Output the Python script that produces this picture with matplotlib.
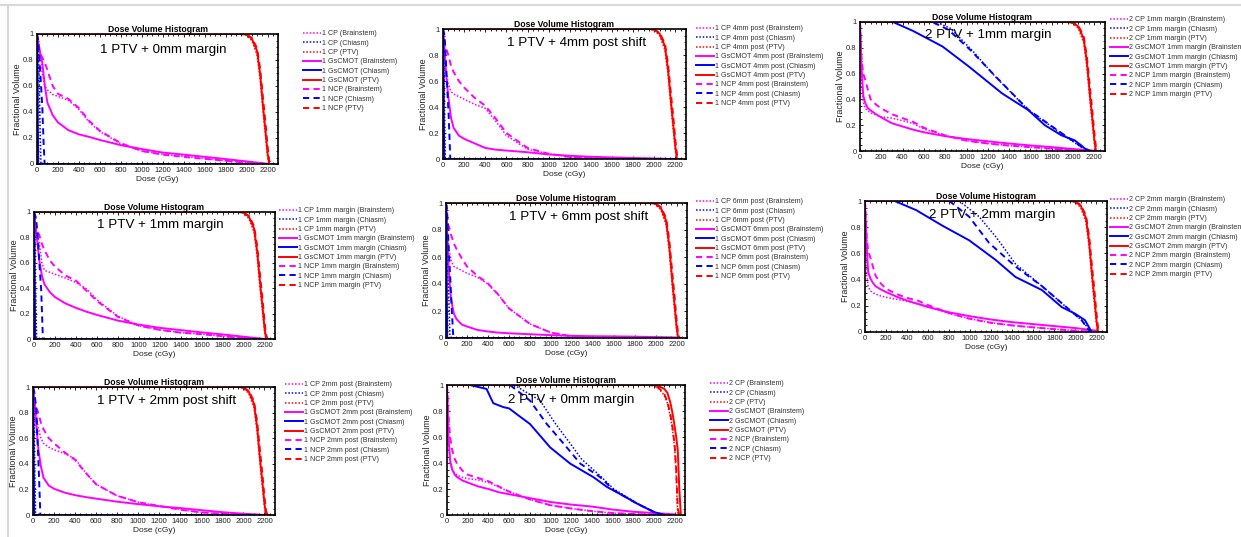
import matplotlib
matplotlib.use('Agg')
import matplotlib.pyplot as plt
from matplotlib.ticker import MultipleLocator
from matplotlib.lines import Line2D

plt.rcParams['font.family'] = ['Liberation Sans', 'DejaVu Sans']

W, H = 1241, 537

METHODS = ['CP', 'GsCMOT', 'NCP']
STRUCTURES = ['Brainstem', 'Chiasm', 'PTV']
X_TICKS = [0, 200, 400, 600, 800, 1000, 1200, 1400, 1600, 1800, 2000, 2200]
Y_TICKS = [0, 0.2, 0.4, 0.6, 0.8, 1.0]
Y_TICK_LABELS = ['0', '0.2', '0.4', '0.6', '0.8', '1']

# ---------------- Brainstem (shared dose grid) ----------------
BS_DOSE = [0, 15, 30, 50, 75, 100, 150, 200, 300, 400, 500, 600, 800, 1000, 1200, 1400, 1600, 1800, 2000, 2200]

P1_BS_CP = [1, .92, .88, .70, .60, .57, .535, .52, .49, .42, .32, .25, .155, .10, .075, .058, .042, .025, .01, 0]
P1_BS_GS = [1, .92, .85, .78, .60, .47, .375, .32, .26, .228, .208, .185, .145, .115, .088, .072, .055, .038, .02, .002]
P1_BS_NCP = [1, .90, .85, .82, .78, .72, .60, .54, .50, .43, .33, .255, .16, .10, .072, .055, .04, .025, .01, 0]

P2_BS_CP = [1, .78, .66, .58, .52, .50, .48, .46, .42, .39, .29, .18, .075, .04, .016, .006, .002, 0, 0, 0]
P2_BS_GS = [1, .85, .65, .48, .32, .24, .18, .155, .12, .085, .072, .065, .052, .035, .025, .017, .012, .008, .004, 0]
P2_BS_NCP = [1, .88, .85, .80, .72, .67, .60, .55, .47, .41, .31, .20, .085, .04, .016, .006, .002, 0, 0, 0]

P3_BS_CP = [1, .52, .38, .33, .31, .295, .28, .265, .255, .235, .213, .17, .12, .08, .058, .042, .03, .018, .008, 0]
P3_BS_GS = [1, .65, .43, .37, .33, .315, .285, .26, .215, .19, .165, .145, .115, .093, .075, .058, .043, .03, .015, .002]
P3_BS_NCP = [1, .70, .60, .55, .47, .40, .36, .33, .285, .255, .225, .18, .12, .08, .058, .042, .03, .018, .008, 0]

P4_BS_CP = [1, .90, .82, .76, .60, .54, .525, .51, .48, .445, .395, .31, .18, .105, .072, .05, .038, .022, .008, 0]
P4_BS_GS = [1, .88, .78, .62, .50, .43, .37, .33, .28, .245, .215, .19, .145, .113, .088, .07, .052, .036, .018, 0]
P4_BS_NCP = [1, .90, .85, .82, .75, .70, .62, .57, .50, .46, .38, .30, .175, .105, .072, .05, .038, .022, .008, 0]

P5_BS_CP = [1, .75, .65, .57, .53, .52, .50, .48, .45, .40, .32, .22, .105, .04, .012, .004, .001, 0, 0, 0]
P5_BS_GS = [1, .70, .45, .28, .18, .14, .10, .085, .06, .048, .04, .035, .028, .021, .016, .013, .012, .01, .007, .004]
P5_BS_NCP = [1, .85, .82, .76, .70, .66, .59, .53, .46, .405, .32, .22, .105, .04, .012, .004, .001, 0, 0, 0]

P6_BS_CP = [1, .45, .35, .315, .30, .29, .275, .265, .25, .235, .215, .195, .14, .10, .07, .05, .035, .022, .01, 0]
P6_BS_GS = [1, .67, .46, .41, .375, .35, .325, .305, .27, .24, .215, .19, .15, .12, .095, .075, .06, .045, .03, .01]
P6_BS_NCP = [1, .73, .62, .57, .50, .43, .37, .33, .29, .26, .24, .205, .145, .10, .07, .05, .035, .022, .01, 0]

P7_BS_CP = [1, .90, .80, .68, .60, .56, .53, .51, .48, .44, .33, .24, .15, .10, .07, .042, .02, .01, .004, 0]
P7_BS_GS = [1, .88, .72, .52, .38, .29, .23, .205, .175, .155, .14, .128, .104, .085, .068, .054, .038, .022, .01, 0]
P7_BS_NCP = [1, .90, .84, .80, .72, .67, .60, .56, .49, .43, .33, .24, .15, .10, .07, .042, .02, .01, .004, 0]

P8_BS_CP = [1, .55, .40, .35, .32, .305, .29, .28, .27, .25, .215, .18, .12, .075, .05, .03, .015, .007, .002, 0]
P8_BS_GS = [1, .60, .42, .35, .31, .29, .265, .25, .22, .20, .175, .16, .13, .10, .08, .065, .042, .025, .015, .005]
P8_BS_NCP = [1, .75, .60, .50, .43, .39, .34, .31, .285, .26, .22, .18, .12, .075, .05, .03, .015, .007, .002, 0]

# ---------------- Chiasm ----------------
CH1_GS_D = [0, 4, 8, 12, 2200]
CH1_GS_V = [1, .9, .3, 0, 0]

P1_CH_CP_D = [0, 10, 20, 30, 38, 2200]
P1_CH_CP_V = [1, .95, .7, .25, 0, 0]
P1_CH_NCP_D = [0, 10, 20, 35, 50, 63, 73, 2200]
P1_CH_NCP_V = [1, .95, .85, .65, .45, .16, 0, 0]

P2_CH_CP_D = [0, 8, 15, 22, 2200]
P2_CH_CP_V = [1, .8, .3, 0, 0]
P2_CH_NCP_D = [0, 15, 22, 40, 54, 69, 2200]
P2_CH_NCP_V = [1, .95, .84, .55, .33, 0, 0]

P3_CH_CP_D = [0, 720, 850, 1053, 1270, 1580, 1890, 2076, 2170]
P3_CH_CP_V = [1, 1, .95, .78, .577, .317, .135, .03, 0]
P3_CH_GS_D = [0, 310, 500, 775, 1023, 1333, 1580, 1735, 1890, 2014, 2076, 2138]
P3_CH_GS_V = [1, 1, .93, .81, .654, .447, .317, .2, .122, .083, .044, 0]
P3_CH_NCP_D = [0, 680, 830, 1040, 1270, 1580, 1890, 2076, 2160]
P3_CH_NCP_V = [1, 1, .94, .78, .58, .32, .14, .035, 0]

P4_CH_CP_D = [0, 8, 15, 25, 2200]
P4_CH_CP_V = [1, .85, .4, 0, 0]
P4_CH_NCP_D = [0, 20, 38, 55, 69, 85, 2200]
P4_CH_NCP_V = [1, .95, .78, .55, .38, 0, 0]

P5_CH_CP_D = [0, 6, 20, 38, 2200]
P5_CH_CP_V = [1, 1, .5, 0, 0]
P5_CH_NCP_D = [0, 10, 22, 40, 54, 70, 2200]
P5_CH_NCP_V = [1, .95, .73, .45, .23, 0, 0]

P6_CH_CP_D = [0, 896, 1085, 1250, 1430, 1682, 1870, 2059, 2150]
P6_CH_CP_V = [1, 1, .88, .72, .52, .35, .22, .09, 0]
P6_CH_GS_D = [0, 283, 487, 739, 990, 1242, 1430, 1682, 1870, 1996, 2091, 2154]
P6_CH_GS_V = [1, 1, .93, .81, .70, .55, .42, .32, .19, .14, .09, 0]
P6_CH_NCP_D = [0, 802, 990, 1179, 1430, 1682, 1870, 2059, 2138]
P6_CH_NCP_V = [1, 1, .88, .68, .50, .35, .22, .09, 0]

P7_CH_CP_D = [0, 8, 15, 25, 2200]
P7_CH_CP_V = [1, .85, .4, 0, 0]
P7_CH_NCP_D = [0, 15, 32, 45, 57, 70, 2200]
P7_CH_NCP_V = [1, .95, .82, .55, .3, 0, 0]

P8_CH_CP_D = [0, 650, 900, 1050, 1200, 1300, 1482, 1612, 1838, 2000, 2097]
P8_CH_CP_V = [1, 1, .88, .70, .54, .43, .30, .20, .09, .025, 0]
P8_CH_GS_D = [0, 220, 382, 447, 544, 600, 700, 802, 997, 1191, 1417, 1547, 1676, 1838, 2000, 2097]
P8_CH_GS_V = [1, 1, .97, .86, .83, .82, .76, .70, .52, .395, .29, .215, .16, .087, .023, 0]
P8_CH_NCP_D = [0, 608, 802, 964, 1126, 1288, 1482, 1612, 1838, 2000, 2097]
P8_CH_NCP_V = [1, 1, .88, .70, .55, .395, .29, .19, .087, .023, 0]

# ---------------- PTV (shared dose grid) ----------------
PTV_DOSE = [0, 1950, 2000, 2050, 2100, 2130, 2160, 2180, 2200, 2215, 2230, 2245, 2260]
PTV_CP = [1, 1, .99, .95, .84, .65, .38, .22, .06, 0, 0, 0, 0]
PTV_GS = [1, 1, .995, .965, .87, .69, .42, .26, .09, 0, 0, 0, 0]
PTV_NCP = [1, 1, .995, .97, .89, .73, .48, .32, .14, .03, 0, 0, 0]
P8_PTV_CP = [1, 1, .995, .97, .92, .86, .75, .65, .52, .30, 0, 0, 0]
P8_PTV_GS = [1, 1, 1, .99, .97, .94, .86, .78, .68, .60, .50, .20, 0]
P8_PTV_NCP = [1, 1, .995, .975, .93, .87, .77, .67, .54, .35, .05, 0, 0]

# ---------------- panel texts ----------------
PANEL_ANNOT = ['1 PTV + 0mm margin', '1 PTV + 4mm post shift', '2 PTV + 1mm margin',
               '1 PTV + 1mm margin', '1 PTV + 6mm post shift', '2 PTV + 2mm margin',
               '1 PTV + 2mm post shift', '2 PTV + 0mm margin']
PANEL_NUM = ['1', '1', '2', '1', '1', '2', '1', '2']
PANEL_SUFFIX = ['', ' 4mm post', ' 1mm margin', ' 1mm margin', ' 6mm post',
                ' 2mm margin', ' 2mm post', '']

# layout (pixels): axes box, annotation center, legend anchor
AX_BOX = [(37, 34, 278, 164), (443, 29, 686, 159), (860, 22, 1105, 151),
          (34, 212, 275, 339), (446, 203, 687, 338), (865, 201, 1107, 332),
          (33, 387, 275, 515), (447, 385, 685, 515)]
ANNOT_XY = [(163, 50), (577, 43), (988, 35), (160, 225), (579, 217), (992, 215),
            (167, 401), (571, 400)]
LEG_XY = [(303, 35), (696, 30), (1110, 21), (279, 212), (696, 203), (1110, 201),
          (285, 386), (710, 385)]

BS = [(P1_BS_CP, P1_BS_GS, P1_BS_NCP), (P2_BS_CP, P2_BS_GS, P2_BS_NCP),
      (P3_BS_CP, P3_BS_GS, P3_BS_NCP), (P4_BS_CP, P4_BS_GS, P4_BS_NCP),
      (P5_BS_CP, P5_BS_GS, P5_BS_NCP), (P6_BS_CP, P6_BS_GS, P6_BS_NCP),
      (P7_BS_CP, P7_BS_GS, P7_BS_NCP), (P8_BS_CP, P8_BS_GS, P8_BS_NCP)]
CH = [((P1_CH_CP_D, P1_CH_CP_V), (CH1_GS_D, CH1_GS_V), (P1_CH_NCP_D, P1_CH_NCP_V)),
      ((P2_CH_CP_D, P2_CH_CP_V), (CH1_GS_D, CH1_GS_V), (P2_CH_NCP_D, P2_CH_NCP_V)),
      ((P3_CH_CP_D, P3_CH_CP_V), (P3_CH_GS_D, P3_CH_GS_V), (P3_CH_NCP_D, P3_CH_NCP_V)),
      ((P4_CH_CP_D, P4_CH_CP_V), (CH1_GS_D, CH1_GS_V), (P4_CH_NCP_D, P4_CH_NCP_V)),
      ((P5_CH_CP_D, P5_CH_CP_V), (CH1_GS_D, CH1_GS_V), (P5_CH_NCP_D, P5_CH_NCP_V)),
      ((P6_CH_CP_D, P6_CH_CP_V), (P6_CH_GS_D, P6_CH_GS_V), (P6_CH_NCP_D, P6_CH_NCP_V)),
      ((P7_CH_CP_D, P7_CH_CP_V), (CH1_GS_D, CH1_GS_V), (P7_CH_NCP_D, P7_CH_NCP_V)),
      ((P8_CH_CP_D, P8_CH_CP_V), (P8_CH_GS_D, P8_CH_GS_V), (P8_CH_NCP_D, P8_CH_NCP_V))]
PTV = [(PTV_CP, PTV_GS, PTV_NCP)] * 7 + [(P8_PTV_CP, P8_PTV_GS, P8_PTV_NCP)]

COLORS = {'Brainstem': '#ff00ff', 'Chiasm': '#0000ff', 'PTV': '#ff0000'}
STYLES = {'CP': dict(linestyle=(0, (1, 1.2)), linewidth=1.1),
          'GsCMOT': dict(linestyle='-', linewidth=1.4),
          'NCP': dict(linestyle=(0, (3.2, 2.2)), linewidth=1.4)}

fig = plt.figure(figsize=(W / 100, H / 100), dpi=100)
fig.patch.set_facecolor('white')

# light frame of the screenshot
fig.add_artist(Line2D([0, 1], [1 - 5 / H, 1 - 5 / H], color='#d9d9d9', linewidth=1.5,
                      transform=fig.transFigure))
fig.add_artist(Line2D([8 / W, 8 / W], [0, 1 - 5 / H], color='#d9d9d9', linewidth=1.5,
                      transform=fig.transFigure))

for i in range(8):
    l, t, r, b = AX_BOX[i]
    ax = fig.add_axes([l / W, 1 - b / H, (r - l) / W, (b - t) / H])
    handles, labels = [], []
    for mi, m in enumerate(METHODS):
        for s in STRUCTURES:
            if s == 'Brainstem':
                x, y = BS_DOSE, BS[i][mi]
            elif s == 'Chiasm':
                x, y = CH[i][mi]
            else:
                x, y = PTV_DOSE, PTV[i][mi]
            ln, = ax.plot(x, y, color=COLORS[s], **STYLES[m])
            handles.append(ln)
            labels.append(f"{PANEL_NUM[i]} {m}{PANEL_SUFFIX[i]} ({s})")
    ax.set_xlim(0, 2300)
    ax.set_ylim(0, 1)
    ax.set_xticks(X_TICKS)
    ax.set_xticklabels([str(v) for v in X_TICKS])
    ax.set_yticks(Y_TICKS)
    ax.set_yticklabels(Y_TICK_LABELS)
    ax.xaxis.set_minor_locator(MultipleLocator(50))
    ax.yaxis.set_minor_locator(MultipleLocator(0.05))
    ax.tick_params(which='both', direction='in', top=True, right=True, width=0.6)
    ax.tick_params(which='major', length=2.5, labelsize=5.5, pad=2.5, labelcolor='#222222')
    ax.tick_params(which='minor', length=1.3)
    for sp in ax.spines.values():
        sp.set_linewidth(1.2)
    ax.set_title('Dose Volume Histogram', fontsize=6.2, fontweight='bold', pad=1.5)
    ax.set_xlabel('Dose (cGy)', fontsize=6.0, labelpad=1, color='#222222')
    ax.set_ylabel('Fractional Volume', fontsize=6.4, labelpad=1, color='#222222')

    cx, cy = ANNOT_XY[i]
    fig.text(cx / W, 1 - cy / H, PANEL_ANNOT[i], ha='center', va='center', fontsize=9.6)

    lx, ly = LEG_XY[i]
    leg = ax.legend(handles, labels, loc='upper left',
                    bbox_to_anchor=(lx / W, 1 - (ly - 4.6) / H),
                    bbox_transform=fig.transFigure, frameon=False, fontsize=5.1,
                    handlelength=2.6, handletextpad=0.1, labelspacing=0.33,
                    borderpad=0, borderaxespad=0)
    for txt in leg.get_texts():
        txt.set_color('#333333')

fig.savefig('out.png', dpi=100)
